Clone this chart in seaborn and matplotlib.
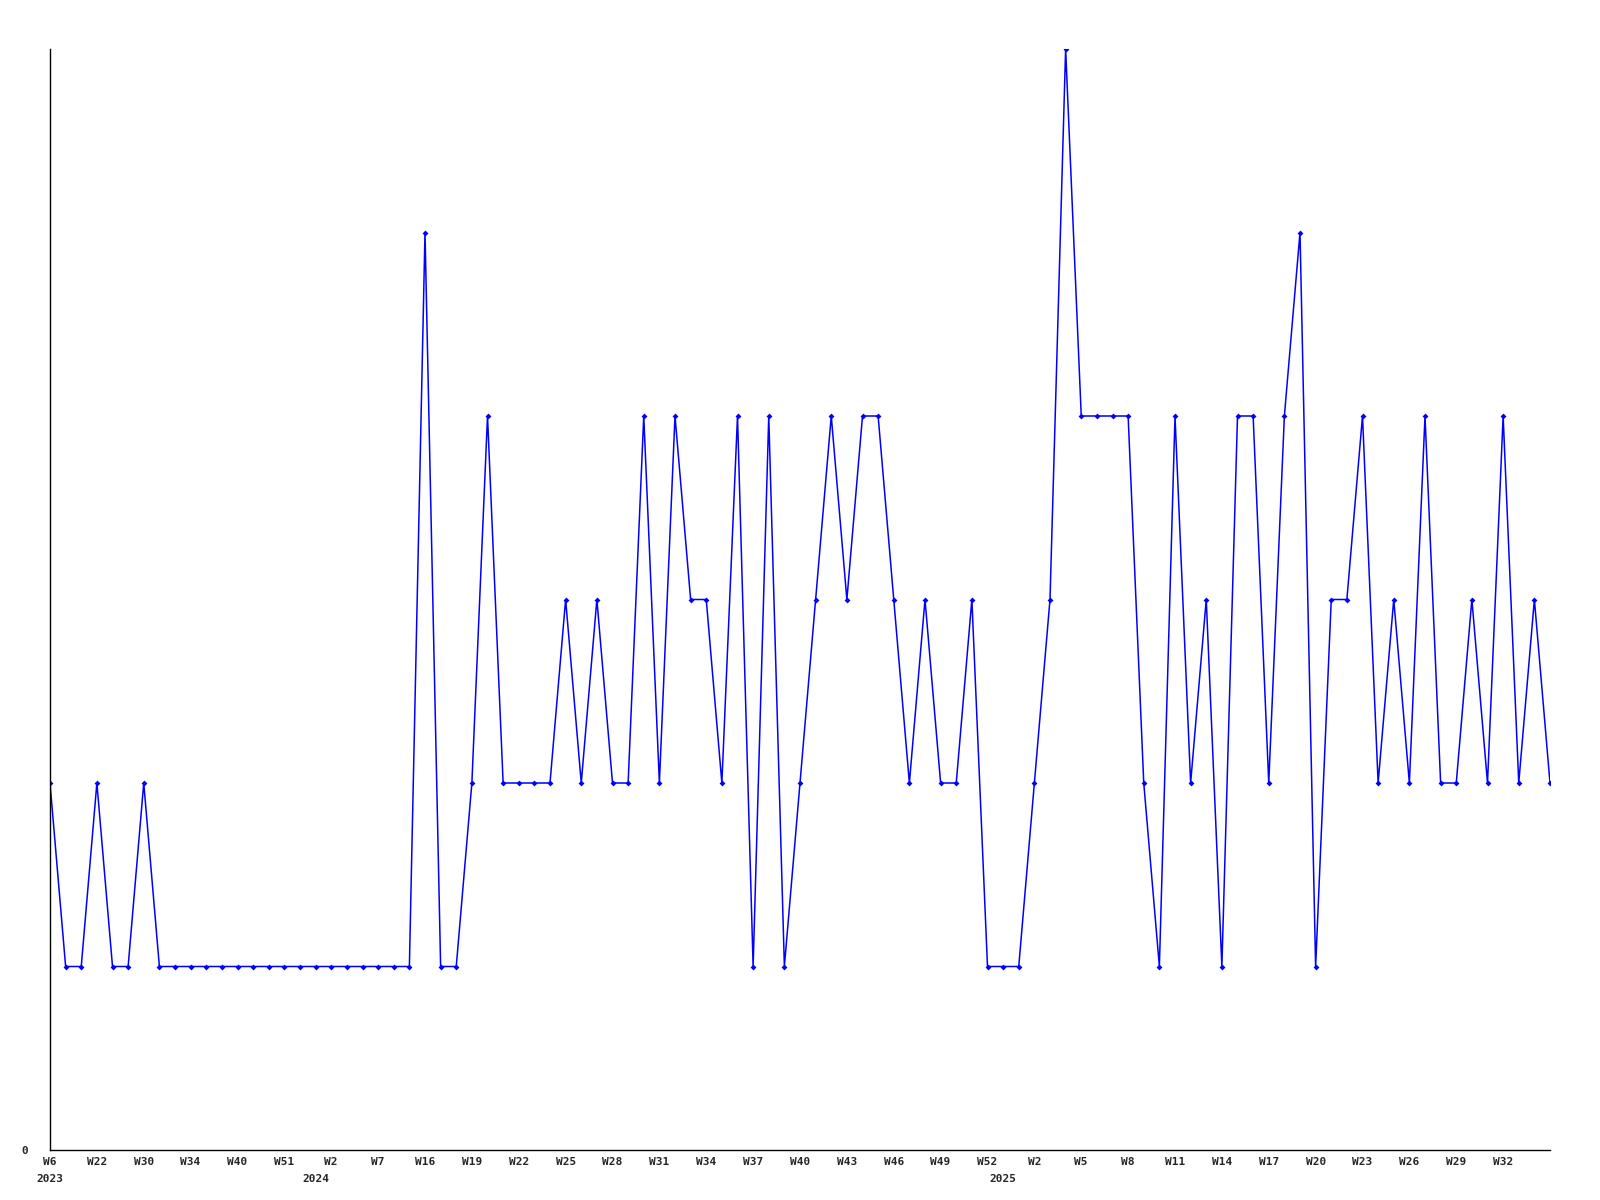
import numpy as np
import pandas as pd
import seaborn as sns
import matplotlib.pyplot as plt

# weekly values, one per point
values = [2, 1, 1, 2, 1, 1, 2, 1, 1, 1, 1, 1, 1, 1, 1, 1, 1, 1, 1, 1, 1, 1, 1, 1,
          5, 1, 1, 2, 4, 2, 2, 2, 2, 3, 2, 3, 2, 2, 4, 2, 4, 3, 3, 2, 4, 1, 4, 1,
          2, 3, 4, 3, 4, 4, 3, 2, 3, 2, 2, 3, 1, 1, 1, 2, 3, 6, 4, 4, 4, 4, 2, 1,
          4, 2, 3, 1, 4, 4, 2, 4, 5, 1, 3, 3, 4, 2, 3, 2, 4, 2, 2, 3, 2, 4, 2, 3, 2]

# a week label on every third point
week_labels = ['W6', 'W22', 'W30', 'W34', 'W40', 'W51', 'W2', 'W7', 'W16', 'W19', 'W22',
               'W25', 'W28', 'W31', 'W34', 'W37', 'W40', 'W43', 'W46', 'W49', 'W52',
               'W2', 'W5', 'W8', 'W11', 'W14', 'W17', 'W20', 'W23', 'W26', 'W29', 'W32']
label_step = 3

years = ['2023', '2024', '2025']
year_start = [0, 17, 61]

df = pd.DataFrame({'idx': np.arange(len(values)), 'value': values})

sns.set_style('white')
plt.rcParams['font.family'] = ['DejaVu Sans Mono']
plt.rcParams['font.weight'] = 'bold'

fig = plt.figure(figsize=(16, 12), dpi=100)
ax = fig.add_axes([50 / 1600, 1 - 1150 / 1200, 1500 / 1600, 1101 / 1200])

sns.lineplot(data=df, x='idx', y='value', ax=ax, color='#0000ff', linewidth=1.1,
             marker='D', markersize=3, markeredgewidth=0, markerfacecolor='#0000ff')

ax.set_xlim(0, len(values) - 1)
ax.set_ylim(0, max(values))

# keep the 2023 label even though it sits on the first week tick
ax.xaxis.remove_overlapping_locs = False
ax.set_xticks(np.arange(0, len(week_labels) * label_step, label_step))
ax.set_xticklabels(week_labels, fontsize=8, fontweight='bold')
ax.set_xticks(year_start, minor=True)
ax.set_xticklabels(years, minor=True, fontsize=8, fontweight='bold')
ax.tick_params(axis='x', which='major', length=0, pad=5)
ax.tick_params(axis='x', which='minor', length=0, pad=17)

ax.set_yticks([0])
ax.set_yticklabels(['0'], fontsize=8, fontweight='bold')
ax.tick_params(axis='y', length=0, pad=16)

ax.set_xlabel('')
ax.set_ylabel('')
for side in ['top', 'right']:
    ax.spines[side].set_visible(False)
for side in ['left', 'bottom']:
    ax.spines[side].set_color('black')
    ax.spines[side].set_linewidth(1)

fig.savefig('out.png', dpi=100)
